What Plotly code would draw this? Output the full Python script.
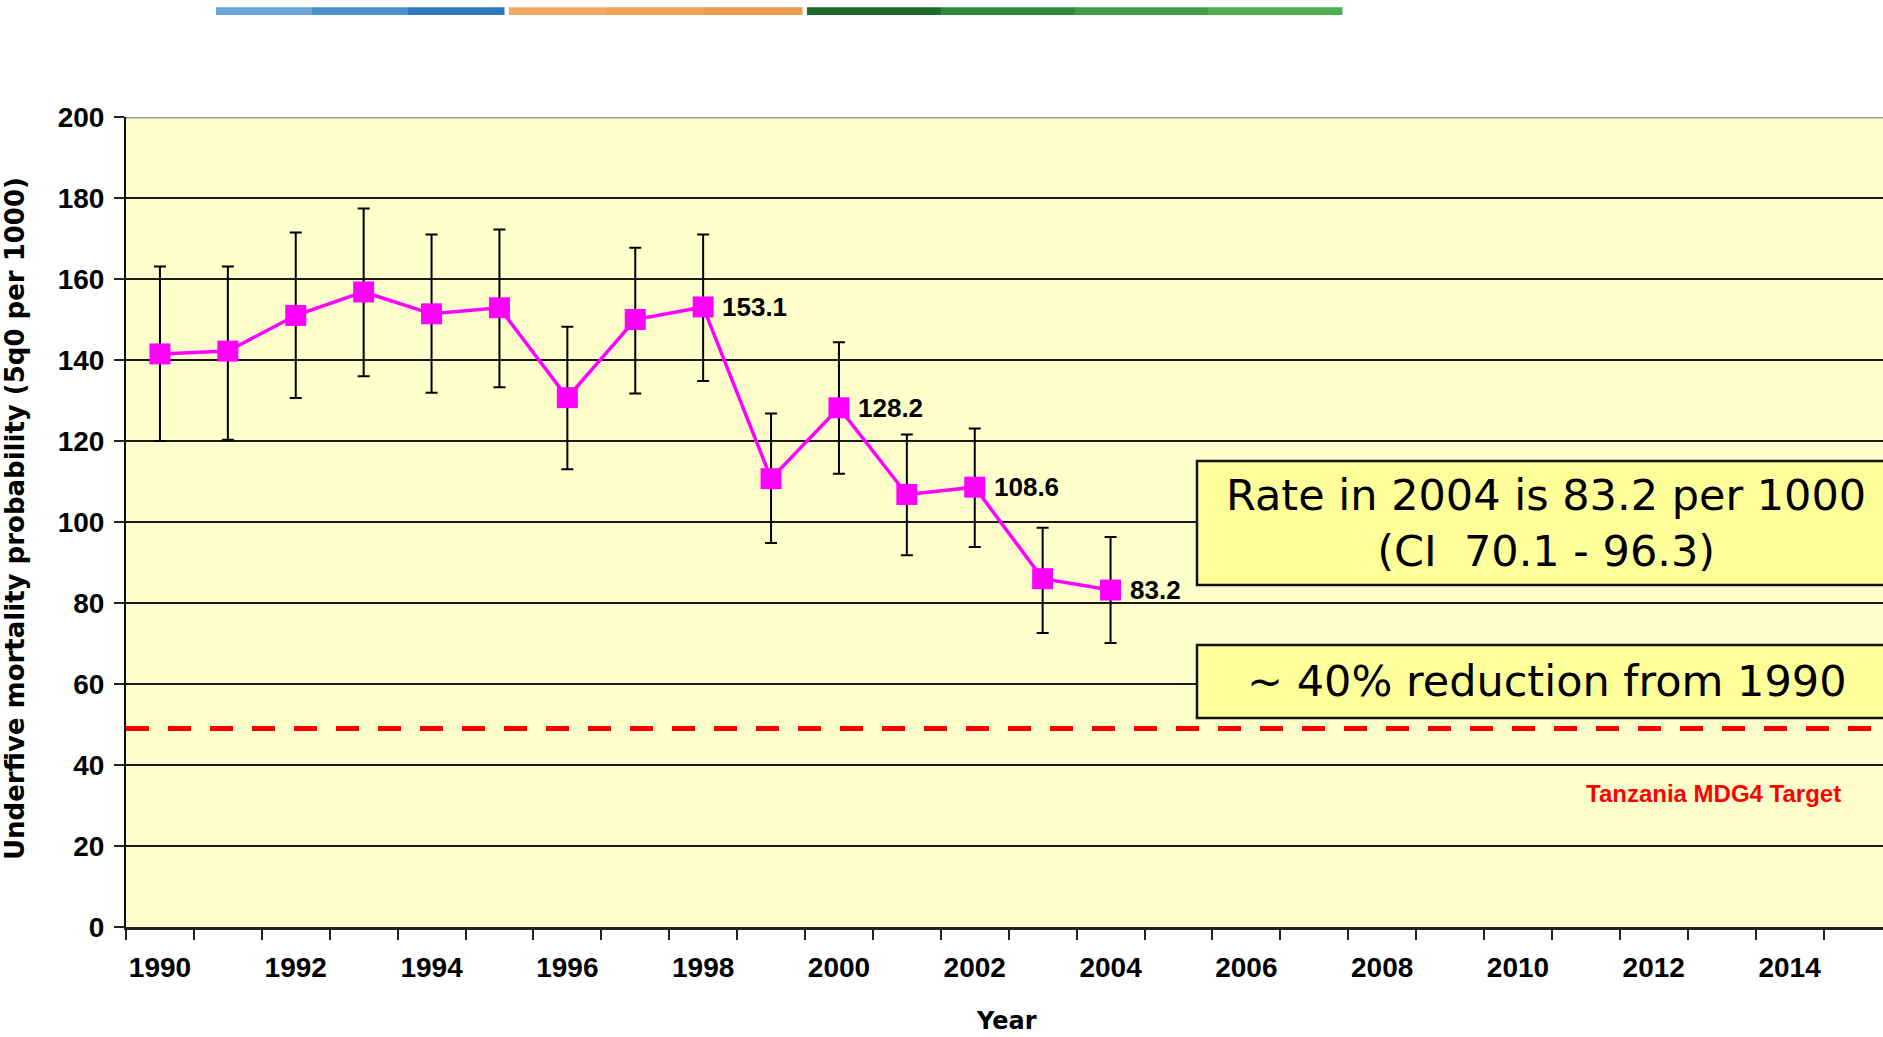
import plotly.graph_objects as go

# ---- data ----
years = list(range(1990, 2005))
u5mr = [141.5, 142.2, 151.0, 156.8, 151.4, 152.9, 130.7, 150.0, 153.1, 110.7, 128.2, 106.8, 108.6, 86.0, 83.2]
ci_upper = [163.1, 163.1, 171.5, 177.4, 171.0, 172.2, 148.2, 167.7, 171.0, 126.8, 144.4, 121.6, 123.1, 98.6, 96.3]
ci_lower = [120.0, 120.3, 130.6, 136.0, 131.9, 133.3, 113.0, 131.7, 134.8, 94.8, 111.9, 91.8, 93.8, 72.6, 70.1]
labelled_years = [1998, 2000, 2002, 2004]
tick_years = list(range(1990, 2015, 2))
y_ticks = list(range(0, 201, 20))
mdg4_target = 49
box1_text = "Rate in 2004 is 83.2 per 1000<br>(CI  70.1 - 96.3)"
box2_text = "~ 40% reduction from 1990"
target_text = "Tanzania MDG4 Target"
y_title = "Underfive mortality probability (5q0 per 1000)"
x_title = "Year"

err_plus = [u - v for u, v in zip(ci_upper, u5mr)]
err_minus = [v - l for v, l in zip(u5mr, ci_lower)]

# body margin is removed by post_script, figure fills the page from (0, 0)
OFF = 0
W, H = 1883 - OFF, 1037 - OFF
L, R, T, B = 126 - OFF, 0, 117 - OFF, 110
pw = W - L - R
ph = H - T - B

def px(xpix):
    return (xpix - OFF - L) / pw

def py(ypix):
    return 1 + (T - (ypix - OFF)) / ph

def ydata(ypix):
    return (T + ph - (ypix - OFF)) / ph * 200

fig = go.Figure()
fig.add_trace(go.Scatter(
    x=years, y=u5mr, mode="lines+markers",
    line=dict(color="#FF00FF", width=3.5),
    marker=dict(symbol="square", size=21, color="#FF00FF"),
    error_y=dict(type="data", symmetric=False, array=err_plus, arrayminus=err_minus,
                 color="black", thickness=2, width=6),
    showlegend=False, cliponaxis=False,
))

fig.update_layout(
    width=W, height=H,
    margin=dict(l=L, r=R, t=T, b=B, pad=0, autoexpand=False),
    paper_bgcolor="white", plot_bgcolor="#FFFFCC",
    xaxis=dict(range=[1989.5, 1989.5 + pw / 67.9], tickvals=tick_years,
               ticktext=[str(y) for y in tick_years], automargin=False,
               ticks="outside", ticklen=10, tickcolor="rgba(0,0,0,0)",
               ticklabelstandoff=3,
               tickfont=dict(family="Liberation Sans, Arial", size=28, color="black", weight="bold"),
               showgrid=False, zeroline=False, showline=True, linecolor="#222", linewidth=3,
               minor=dict(ticks="outside", tick0=1989.5, dtick=1, ticklen=10, tickwidth=2,
                          tickcolor="#222", showgrid=False)),
    yaxis=dict(range=[0, 200], tickvals=y_ticks, ticks="outside", ticklen=10, tickwidth=2,
               tickcolor="#222", ticklabelstandoff=4, automargin=False,
               tickfont=dict(family="Liberation Sans, Arial", size=28, color="black", weight="bold"),
               showgrid=True, gridcolor="#1a1a1a", gridwidth=2, zeroline=False,
               showline=True, linecolor="#111", linewidth=2),
)

shapes = []
shapes.append(dict(type="line", xref="paper", yref="y", x0=0, x1=1, y0=200, y1=200,
                   line=dict(color="#9a9a9a", width=3)))
shapes.append(dict(type="line", xref="paper", yref="y", x0=0, x1=1, y0=mdg4_target, y1=mdg4_target,
                   line=dict(color="#FF0000", width=5, dash="23px,19px")))
shapes.append(dict(type="rect", xref="paper", yref="y", x0=px(1197), x1=1.05,
                   y0=ydata(585), y1=ydata(461), fillcolor="#FFFF99",
                   line=dict(color="#111", width=2.5), layer="above"))
shapes.append(dict(type="rect", xref="paper", yref="y", x0=px(1197), x1=1.05,
                   y0=ydata(718), y1=ydata(645), fillcolor="#FFFF99",
                   line=dict(color="#111", width=2.5), layer="above"))
strip = [(216, 504, ["#6aa6dc", "#4b8fcf", "#2f78bf"]),
         (509, 802, ["#f2a865", "#eea057", "#ec9a4c"]),
         (807, 1342, ["#1d6a2e", "#2d8a3a", "#3f9d45", "#4fae4f"])]
for x0, x1, cols in strip:
    n = len(cols)
    for i, c in enumerate(cols):
        a = x0 + (x1 - x0) * i / n
        b = x0 + (x1 - x0) * (i + 1) / n
        shapes.append(dict(type="rect", xref="paper", yref="paper", x0=px(a), x1=px(b) + 0.0003,
                           y0=py(15), y1=py(7.3), fillcolor=c, line=dict(width=0)))
fig.update_layout(shapes=shapes)

ann = []
for yr, v in zip(years, u5mr):
    if yr in labelled_years:
        ann.append(dict(xref="x", yref="y", x=yr, y=v, text=f"{v:.1f}", showarrow=False,
                        xanchor="left", yanchor="middle", xshift=17,
                        font=dict(family="Liberation Sans, Arial", size=26, color="black", weight="bold")))
ann.append(dict(xref="paper", yref="y", x=px(1546), y=ydata(523), text=box1_text, showarrow=False,
                xanchor="center", yanchor="middle",
                font=dict(family="DejaVu Sans", size=43, color="black"), align="center"))
ann.append(dict(xref="paper", yref="y", x=px(1547), y=ydata(681), text=box2_text, showarrow=False,
                xanchor="center", yanchor="middle",
                font=dict(family="DejaVu Sans", size=43, color="black"), align="center"))
ann.append(dict(xref="paper", yref="y", x=px(1713), y=ydata(793), text=target_text, showarrow=False,
                xanchor="center", yanchor="middle",
                font=dict(family="Liberation Sans, Arial", size=24, color="#FF0000", weight="bold")))
ann.append(dict(xref="paper", yref="paper", x=px(15), y=py(519), text=y_title, showarrow=False,
                xanchor="center", yanchor="middle", textangle=-90,
                font=dict(family="DejaVu Sans", size=26, color="black", weight="bold")))
ann.append(dict(xref="paper", yref="paper", x=px(1007), y=py(1021), text=x_title, showarrow=False,
                xanchor="center", yanchor="middle",
                font=dict(family="DejaVu Sans", size=24, color="black", weight="bold")))
fig.update_layout(annotations=ann)

fig.write_html("out.html", config={"displayModeBar": False},
               post_script="document.body.style.margin='0';document.body.style.overflow='hidden';")
